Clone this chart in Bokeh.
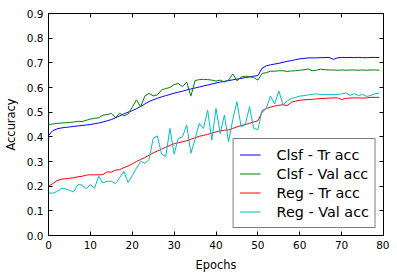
from bokeh.plotting import figure
from bokeh.models import Range1d, LinearAxis, NumeralTickFormatter, FixedTicker
from bokeh.embed import file_html
from bokeh.resources import INLINE

epochs = list(range(80))

clsf_tr = [0.405, 0.425, 0.432, 0.436, 0.438, 0.440, 0.442, 0.444, 0.446, 0.448,
           0.450, 0.453, 0.456, 0.460, 0.465, 0.470, 0.477, 0.485, 0.493, 0.500,
           0.506, 0.514, 0.523, 0.533, 0.543, 0.550, 0.556, 0.562, 0.567, 0.572,
           0.577, 0.581, 0.585, 0.590, 0.594, 0.598, 0.602, 0.606, 0.610, 0.614,
           0.618, 0.622, 0.625, 0.628, 0.631, 0.634, 0.637, 0.640, 0.643, 0.646,
           0.648, 0.678, 0.688, 0.692, 0.695, 0.698, 0.702, 0.706, 0.709, 0.713,
           0.716, 0.718, 0.720, 0.720, 0.720, 0.721, 0.721, 0.722, 0.714, 0.720,
           0.722, 0.721, 0.722, 0.721, 0.722, 0.721, 0.721, 0.722, 0.722, 0.721]

clsf_val = [0.450, 0.452, 0.454, 0.456, 0.457, 0.458, 0.460, 0.463, 0.462, 0.467,
            0.472, 0.475, 0.477, 0.488, 0.490, 0.495, 0.478, 0.496, 0.485, 0.492,
            0.520, 0.550, 0.522, 0.565, 0.576, 0.566, 0.570, 0.590, 0.596, 0.600,
            0.612, 0.616, 0.603, 0.622, 0.565, 0.628, 0.632, 0.633, 0.632, 0.630,
            0.626, 0.630, 0.622, 0.630, 0.655, 0.627, 0.642, 0.646, 0.644, 0.640,
            0.630, 0.657, 0.660, 0.666, 0.666, 0.668, 0.668, 0.665, 0.667, 0.668,
            0.670, 0.672, 0.675, 0.668, 0.670, 0.674, 0.672, 0.671, 0.671, 0.670,
            0.671, 0.670, 0.671, 0.671, 0.670, 0.671, 0.670, 0.671, 0.671, 0.670]

reg_tr = [0.200, 0.210, 0.222, 0.228, 0.230, 0.232, 0.234, 0.238, 0.240, 0.245,
          0.246, 0.246, 0.246, 0.247, 0.258, 0.257, 0.265, 0.267, 0.275, 0.282,
          0.290, 0.300, 0.308, 0.316, 0.325, 0.335, 0.342, 0.350, 0.358, 0.365,
          0.372, 0.376, 0.380, 0.384, 0.390, 0.396, 0.402, 0.406, 0.410, 0.415,
          0.420, 0.424, 0.427, 0.428, 0.434, 0.440, 0.446, 0.450, 0.455, 0.460,
          0.465, 0.500, 0.515, 0.520, 0.525, 0.528, 0.530, 0.527, 0.540, 0.545,
          0.548, 0.550, 0.551, 0.552, 0.554, 0.555, 0.556, 0.557, 0.558, 0.558,
          0.551, 0.556, 0.557, 0.558, 0.558, 0.557, 0.558, 0.560, 0.560, 0.560]

reg_val = [0.172, 0.172, 0.178, 0.190, 0.190, 0.183, 0.177, 0.206, 0.205, 0.190,
           0.206, 0.192, 0.240, 0.213, 0.220, 0.220, 0.210, 0.235, 0.260, 0.215,
           0.243, 0.273, 0.300, 0.293, 0.307, 0.394, 0.404, 0.330, 0.320, 0.434,
           0.330, 0.394, 0.400, 0.448, 0.334, 0.390, 0.455, 0.434, 0.508, 0.387,
           0.515, 0.414, 0.488, 0.380, 0.470, 0.542, 0.440, 0.450, 0.522, 0.434,
           0.430, 0.508, 0.515, 0.565, 0.533, 0.586, 0.530, 0.545, 0.556, 0.560,
           0.565, 0.567, 0.570, 0.572, 0.574, 0.572, 0.571, 0.572, 0.571, 0.572,
           0.574, 0.578, 0.568, 0.575, 0.567, 0.572, 0.564, 0.568, 0.575, 0.578]

series = [("Clsf - Tr acc", clsf_tr, "#0000ff"),
          ("Clsf - Val acc", clsf_val, "#008000"),
          ("Reg - Tr acc", reg_tr, "#ff0000"),
          ("Reg - Val acc", reg_val, "#00bfbf")]

x_ticks = [0, 10, 20, 30, 40, 50, 60, 70, 80]
y_ticks = [0.0, 0.1, 0.2, 0.3, 0.4, 0.5, 0.6, 0.7, 0.8, 0.9]

FONT = "DejaVu Sans"

p = figure(frame_width=335, frame_height=222, output_backend="svg", toolbar_location=None,
           x_range=Range1d(0, 80), y_range=Range1d(0, 0.9),
           min_border_left=40, min_border_right=6, min_border_top=13, min_border_bottom=35,
           background_fill_color="white", border_fill_color="white")
p.grid.visible = False
p.outline_line_color = "black"
p.outline_line_width = 1

for label, ys, color in series:
    p.line(epochs, ys, line_color=color, line_width=1, legend_label=label)

def style_axis(ax, show_labels=True):
    ax.axis_line_color = "black"
    ax.major_tick_in = 4
    ax.major_tick_out = 0
    ax.major_tick_line_color = "black"
    ax.minor_tick_line_color = None
    ax.major_label_text_font = FONT
    ax.major_label_text_color = "black"
    if show_labels:
        ax.major_label_text_font_size = "10.5px"
        ax.major_label_standoff = 5
    else:
        ax.major_label_text_font_size = "0px"
        ax.major_label_standoff = 0
        ax.major_label_text_color = None

xa = p.xaxis[0]
xa.ticker = FixedTicker(ticks=x_ticks)
style_axis(xa)
xa.axis_label = "Epochs"
xa.axis_label_text_font = FONT
xa.axis_label_text_font_size = "11.4px"
xa.axis_label_text_font_style = "normal"
xa.axis_label_text_color = "black"
xa.axis_label_standoff = 6

ya = p.yaxis[0]
ya.ticker = FixedTicker(ticks=y_ticks)
ya.formatter = NumeralTickFormatter(format="0.0")
style_axis(ya)
ya.axis_label = "Accuracy"
ya.axis_label_text_font = FONT
ya.axis_label_text_font_size = "11.4px"
ya.axis_label_text_font_style = "normal"
ya.axis_label_text_color = "black"
ya.axis_label_standoff = 6

top = LinearAxis(ticker=FixedTicker(ticks=x_ticks))
style_axis(top, False)
p.add_layout(top, "above")
right = LinearAxis(ticker=FixedTicker(ticks=y_ticks))
style_axis(right, False)
p.add_layout(right, "right")

lg = p.legend[0]
lg.location = "bottom_right"
lg.margin = 7
lg.padding = 6
lg.spacing = 0
lg.glyph_width = 21
lg.glyph_height = 19
lg.label_height = 19
lg.label_standoff = 16
lg.label_text_font = FONT
lg.label_text_font_size = "14.4px"
lg.label_text_color = "black"
lg.border_line_color = "black"
lg.border_line_width = 1
lg.background_fill_color = "white"
lg.background_fill_alpha = 1.0

open("out.html", "w").write(file_html(p, INLINE))
